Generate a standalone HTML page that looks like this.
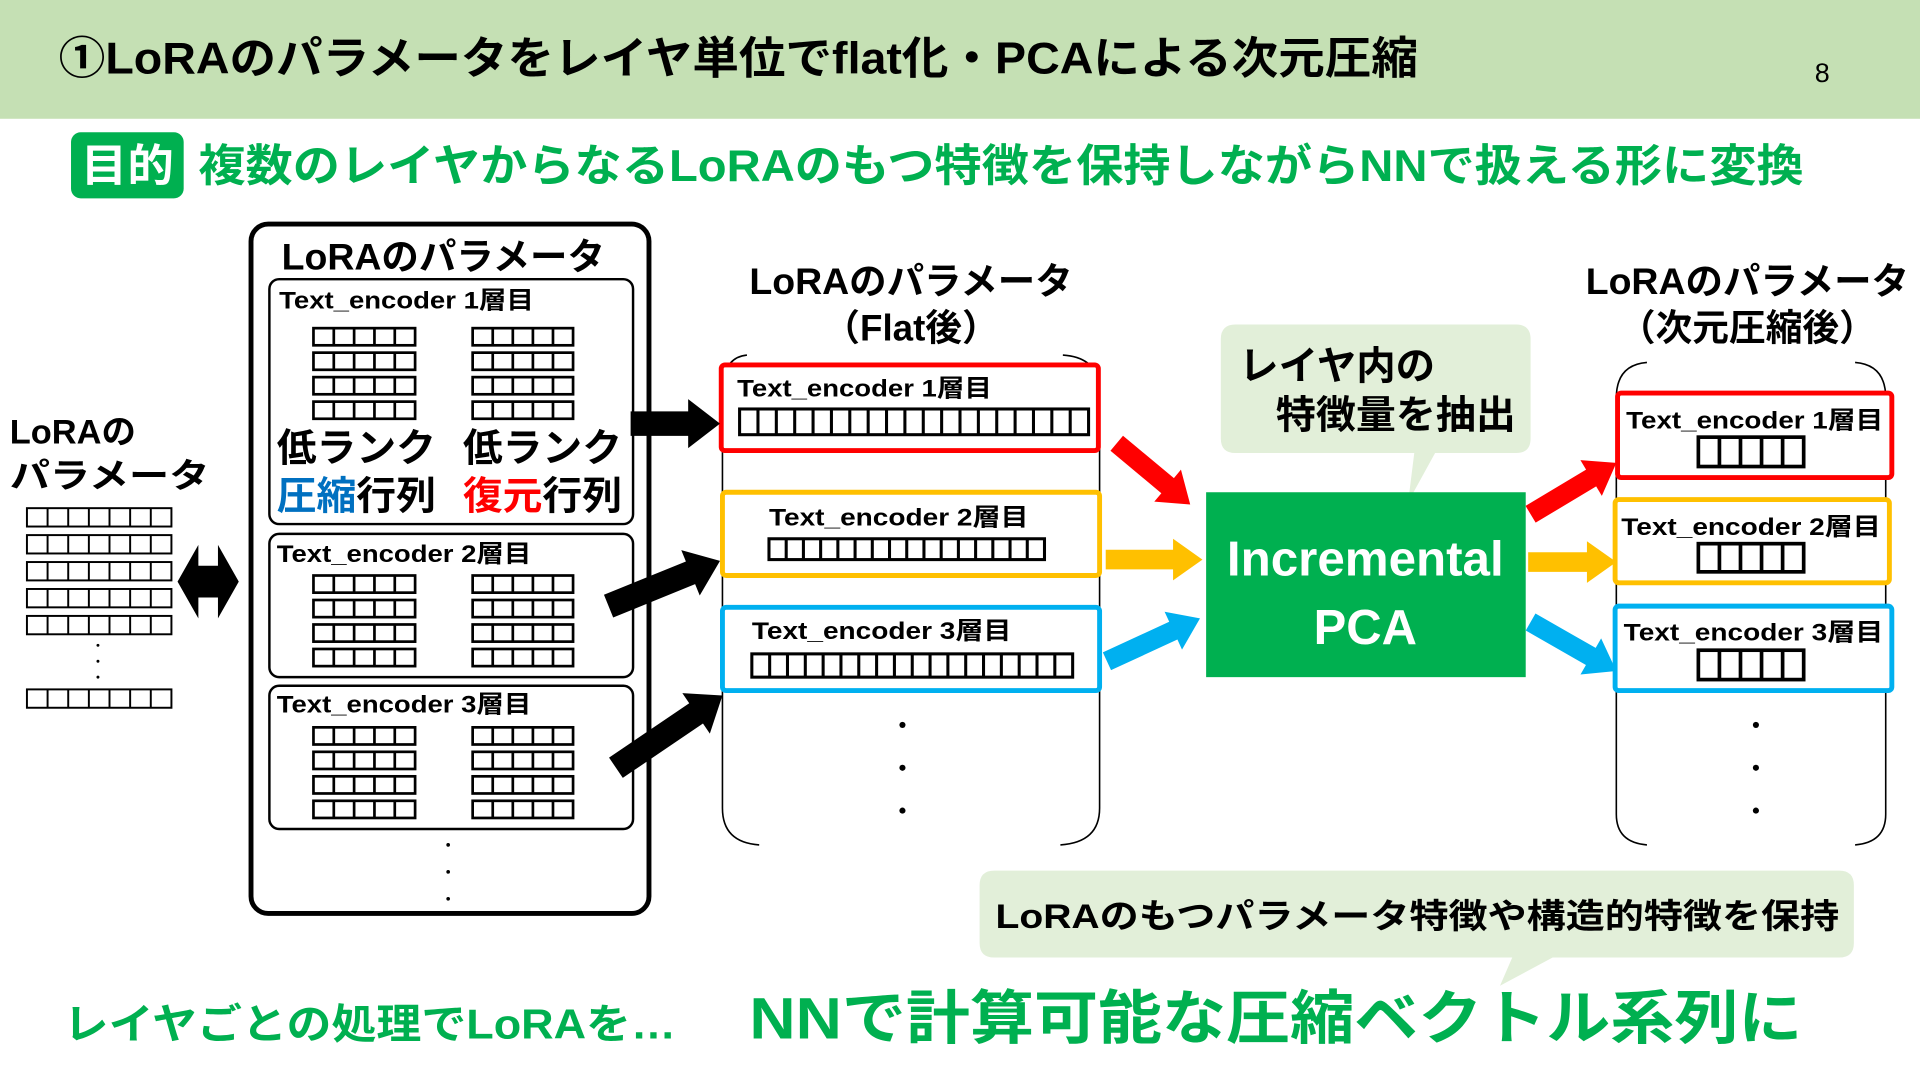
<!DOCTYPE html>
<html><head><meta charset="utf-8">
<style>
html,body{margin:0;padding:0;background:#fff;width:1920px;height:1080px;overflow:hidden}
svg text{font-family:"Liberation Sans","Noto Sans CJK JP",sans-serif;font-weight:bold}
</style></head>
<body>
<svg id="s" xmlns="http://www.w3.org/2000/svg" width="1920" height="1080" viewBox="0 0 1568 882">
<rect x="0" y="0" width="1568" height="97" fill="#c5e0b4"/>
<text x="48" y="60" font-size="36" textLength="1110" lengthAdjust="spacingAndGlyphs">①LoRAのパラメータをレイヤ単位でflat化・PCAによる次元圧縮</text>
<text x="1482" y="67" font-size="22" style="font-weight:normal">8</text>

<rect x="58" y="108" width="92" height="54" rx="8" fill="#00b050"/>
<text x="66" y="148" font-size="36" fill="#fff" textLength="76" lengthAdjust="spacingAndGlyphs">目的</text>
<text x="162" y="148" font-size="36" fill="#00b050" textLength="1311" lengthAdjust="spacingAndGlyphs">複数のレイヤからなるLoRAのもつ特徴を保持しながらNNで扱える形に変換</text>

<text x="8" y="362" font-size="28" textLength="103" lengthAdjust="spacingAndGlyphs">LoRAの</text>
<text x="8" y="398" font-size="28" textLength="163" lengthAdjust="spacingAndGlyphs">パラメータ</text>

<rect x="205" y="183" width="325" height="563" rx="14" fill="none" stroke="#000" stroke-width="4"/>
<text x="230" y="220" font-size="30" textLength="264" lengthAdjust="spacingAndGlyphs">LoRAのパラメータ</text>
<rect x="220" y="228" width="297" height="200" rx="8" fill="none" stroke="#000" stroke-width="2"/>
<text x="228" y="252" font-size="20" textLength="208" lengthAdjust="spacingAndGlyphs">Text_encoder 1層目</text>
<text x="226" y="377" font-size="32" textLength="130" lengthAdjust="spacingAndGlyphs">低ランク</text>
<text x="378" y="377" font-size="32" textLength="130" lengthAdjust="spacingAndGlyphs">低ランク</text>
<text x="226" y="416" font-size="32" textLength="130" lengthAdjust="spacingAndGlyphs"><tspan fill="#0070c0">圧縮</tspan>行列</text>
<text x="378" y="416" font-size="32" textLength="130" lengthAdjust="spacingAndGlyphs"><tspan fill="#ff0000">復元</tspan>行列</text>
<rect x="220" y="436" width="297" height="117" rx="8" fill="none" stroke="#000" stroke-width="2"/>
<text x="226" y="459" font-size="20" textLength="208" lengthAdjust="spacingAndGlyphs">Text_encoder 2層目</text>
<rect x="220" y="560" width="297" height="117" rx="8" fill="none" stroke="#000" stroke-width="2"/>
<text x="226" y="582" font-size="20" textLength="208" lengthAdjust="spacingAndGlyphs">Text_encoder 3層目</text>

<text x="744" y="240" font-size="30" text-anchor="middle" textLength="264" lengthAdjust="spacingAndGlyphs">LoRAのパラメータ</text>
<text x="744" y="278" font-size="30" text-anchor="middle">（Flat後）</text>
<path d="M610,290 Q590,292 590,320 L590,660 Q590,688 620,690 M868,290 Q898,292 898,320 L898,660 Q898,688 866,690" fill="none" stroke="#000" stroke-width="1.3"/>
<rect x="589" y="298" width="308" height="70" rx="3" fill="#fff" stroke="#ff0000" stroke-width="4"/>
<text x="602" y="324" font-size="20" textLength="208" lengthAdjust="spacingAndGlyphs">Text_encoder 1層目</text>
<rect x="590" y="402" width="308" height="68" rx="3" fill="#fff" stroke="#ffc000" stroke-width="4"/>
<text x="628" y="429" font-size="20" textLength="212" lengthAdjust="spacingAndGlyphs">Text_encoder 2層目</text>
<rect x="590" y="496" width="308" height="68" rx="3" fill="#fff" stroke="#00b0f0" stroke-width="4"/>
<text x="614" y="522" font-size="20" textLength="212" lengthAdjust="spacingAndGlyphs">Text_encoder 3層目</text>

<path d="M1009,265 H1238 Q1250,265 1250,277 V358 Q1250,370 1238,370 H1172 L1150,410 L1155,370 H1009 Q997,370 997,358 V277 Q997,265 1009,265 Z" fill="#e2efd9"/>
<text x="1012" y="310" font-size="32" textLength="160" lengthAdjust="spacingAndGlyphs">レイヤ内の</text>
<text x="1042" y="350" font-size="32" textLength="196" lengthAdjust="spacingAndGlyphs">特徴量を抽出</text>
<rect x="985" y="402" width="261" height="151" fill="#00b050"/>
<text x="1115" y="470" font-size="40" fill="#fff" text-anchor="middle" textLength="226" lengthAdjust="spacingAndGlyphs">Incremental</text>
<text x="1115" y="526" font-size="40" fill="#fff" text-anchor="middle">PCA</text>

<text x="1427" y="240" font-size="30" text-anchor="middle" textLength="264" lengthAdjust="spacingAndGlyphs">LoRAのパラメータ</text>
<text x="1427" y="278" font-size="30" text-anchor="middle">（次元圧縮後）</text>
<path d="M1345,296 Q1320,298 1320,325 L1320,665 Q1320,688 1345,690 M1515,296 Q1540,298 1540,325 L1540,665 Q1540,688 1515,690" fill="none" stroke="#000" stroke-width="1.3"/>
<rect x="1321" y="321" width="224" height="69" rx="3" fill="#fff" stroke="#ff0000" stroke-width="4"/>
<text x="1433" y="350" font-size="20" text-anchor="middle" textLength="210" lengthAdjust="spacingAndGlyphs">Text_encoder 1層目</text>
<rect x="1319" y="408" width="224" height="68" rx="3" fill="#fff" stroke="#ffc000" stroke-width="4"/>
<text x="1430" y="437" font-size="20" text-anchor="middle" textLength="212" lengthAdjust="spacingAndGlyphs">Text_encoder 2層目</text>
<rect x="1319" y="495" width="226" height="69" rx="3" fill="#fff" stroke="#00b0f0" stroke-width="4"/>
<text x="1432" y="523" font-size="20" text-anchor="middle" textLength="212" lengthAdjust="spacingAndGlyphs">Text_encoder 3層目</text>

<path d="M812,711 H1502 Q1514,711 1514,723 V770 Q1514,782 1502,782 H1268 L1225,805 L1235,782 H812 Q800,782 800,770 V723 Q800,711 812,711 Z" fill="#e2efd9"/>
<text x="813" y="758" font-size="28" textLength="689" lengthAdjust="spacingAndGlyphs">LoRAのもつパラメータ特徴や構造的特徴を保持</text>
<text x="52" y="848" font-size="34" fill="#00b050" textLength="500" lengthAdjust="spacingAndGlyphs">レイヤごとの処理でLoRAを…</text>
<text x="612" y="848" font-size="48" fill="#00b050" textLength="860" lengthAdjust="spacingAndGlyphs">NNで計算可能な圧縮ベクトル系列に</text>
<g id="g"></g>
</svg>
<script>
var g=document.getElementById('g'),NS='http://www.w3.org/2000/svg';
function el(t,a){var e=document.createElementNS(NS,t);for(var k in a)e.setAttribute(k,a[k]);g.appendChild(e);return e;}
function bar(x,y,w,h,n,sw){el('rect',{x:x,y:y,width:w,height:h,fill:'#fff',stroke:'#000','stroke-width':sw||2.2});
 for(var i=1;i<n;i++){var xx=x+w*i/n;el('line',{x1:xx,y1:y,x2:xx,y2:y+h,stroke:'#000','stroke-width':sw||2.2});}}
function arrow(x1,y1,x2,y2,c,sh,hw,hl){var dx=x2-x1,dy=y2-y1,L=Math.hypot(dx,dy),ux=dx/L,uy=dy/L,px=-uy,py=ux;
 var bx=x2-ux*hl,by=y2-uy*hl;var p=[[x1+px*sh,y1+py*sh],[bx+px*sh,by+py*sh],[bx+px*hw,by+py*hw],[x2,y2],[bx-px*hw,by-py*hw],[bx-px*sh,by-py*sh],[x1-px*sh,y1-py*sh]];
 el('polygon',{points:p.map(function(q){return q.join(',')}).join(' '),fill:c});}
function dots(x,ys,r){ys.forEach(function(y){el('circle',{cx:x,cy:y,r:r,fill:'#000'});});}
[415,437,459,481,503,563].forEach(function(y){bar(22,y,118,15,7,1.6);});
dots(80,[527,540,553],1.2);
el('polygon',{points:'145,475 162,445 162,462 178,462 178,445 195,475 178,505 178,488 162,488 162,505',fill:'#000'});
[[268,288,308,328],[470,490,510,530],[594,614,634,654]].forEach(function(rs){rs.forEach(function(y){bar(256,y,83,14,5);bar(386,y,82,14,5);});});
dots(366,[690,712,734],1.5);
arrow(515,346,588,346,'#000',10,20,26);
arrow(497,495,588,458,'#000',10,20,26);
arrow(503,627,590,568,'#000',10,20,26);
bar(604,334,285,21,19,2.5);bar(628,440,225,17,16,2.5);bar(614,534,262,19,18,2.5);
dots(737,[592,627,662],2.5);
arrow(912,362,972,412,'#ff0000',8,17,24);
arrow(903,457,982,457,'#ffc000',8,17,24);
arrow(904,540,980,505,'#00b0f0',8,17,24);
arrow(1250,420,1320,378,'#ff0000',8,17,24);
arrow(1248,459,1320,459,'#ffc000',8,17,24);
arrow(1250,508,1320,548,'#00b0f0',8,17,24);
bar(1387,357,86,24,5,3);bar(1387,444,86,23,5,3);bar(1387,531,86,24,5,3);
dots(1434,[592,627,662],2.5);
</script>
</body></html>
